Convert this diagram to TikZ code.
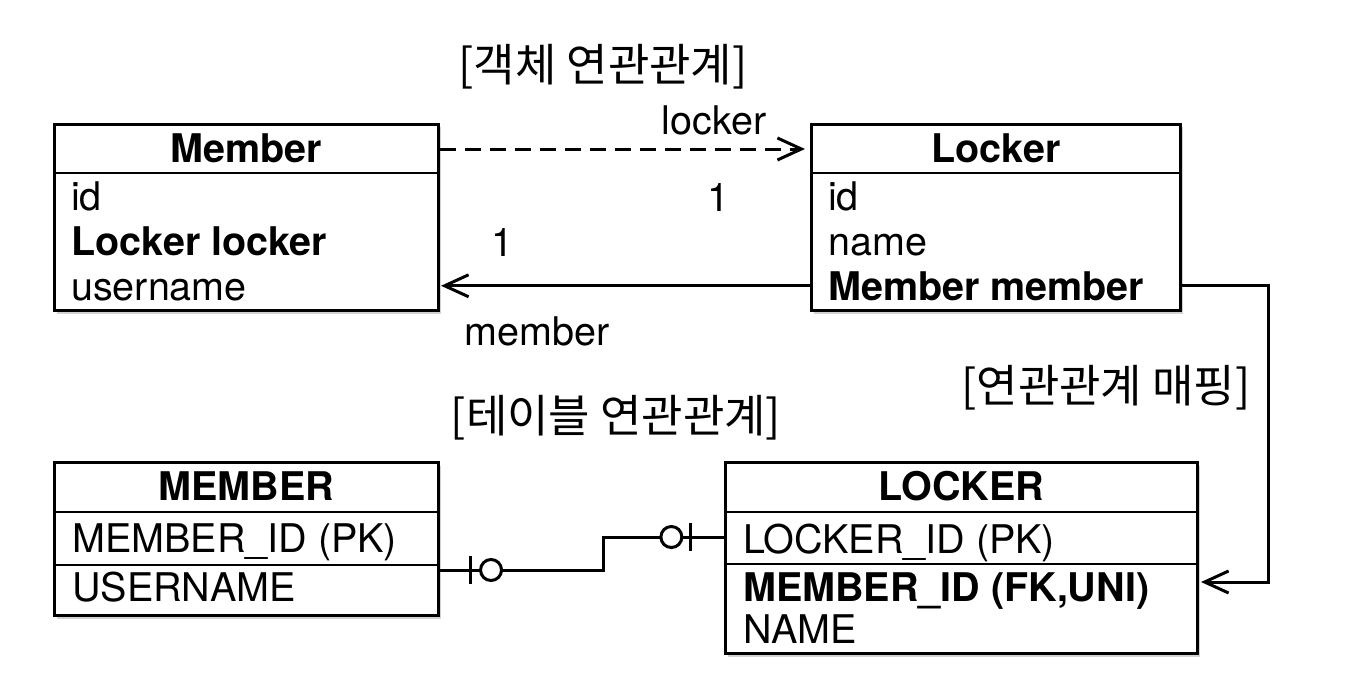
\documentclass[tikz,border=0pt]{standalone}
\usepackage{fontspec}
\setmainfont{TeX Gyre Heros}
\newfontfamily\kr{Noto Sans CJK KR}
\usetikzlibrary{arrows.meta,shadows,calc}
\begin{document}
\begin{tikzpicture}[x=1pt,y=-1pt,
  box/.style={draw,line width=3pt,fill=white,rectangle,inner sep=0pt,anchor=north west,
    drop shadow={shadow xshift=2.5pt,shadow yshift=-3pt,opacity=0.35}},
  sepline/.style={line width=2.5pt},
  head/.style={font=\bfseries\fontsize{39.5}{46}\selectfont,inner sep=0pt},
  row/.style={font=\fontsize{39.5}{46}\selectfont,anchor=base west,inner sep=0pt},
  brow/.style={row,font=\bfseries\fontsize{39.5}{46}\selectfont},
  title/.style={font=\kr\fontsize{45}{52}\selectfont,inner sep=0pt},
  lbl/.style={font=\fontsize{39.5}{46}\selectfont,inner sep=0pt},
  conn/.style={line width=3pt},
  vtip/.style={-{Straight Barb[length=24pt,width=22pt]}},
  erbar/.style={fill=black,draw=none,rectangle,minimum width=3pt,minimum height=28pt,inner sep=0pt},
  ercirc/.style={circle,draw,line width=3pt,fill=white,minimum size=21pt,inner sep=0pt}
]
\fill[white] (0,0) rectangle (1348,698);
\useasboundingbox (0,0) rectangle (1348,698);

% titles
\node[title] (t1) at (603,67) {[객체 연관관계]};
\node[title] (t2) at (616,418) {[테이블 연관관계]};
\node[title] (t3) at (1106,388) {[연관관계 매핑]};

% Member class
\node[box,minimum width=384pt,minimum height=186pt] (member) at (53,123) {};
\draw[sepline] ([yshift=-50pt]member.north west) -- ([yshift=-50pt]member.north east);
\node[head] (mhead) at ([yshift=-25pt]member.north) {Member};
\node[row] (m1) at (71,210) {id};
\node[brow] (m2) at (71,255) {Locker locker};
\node[row] (m3) at (71,300) {username};

% Locker class
\node[box,minimum width=369pt,minimum height=186pt] (locker) at (810,123) {};
\draw[sepline] ([yshift=-50pt]locker.north west) -- ([yshift=-50pt]locker.north east);
\node[head] (lhead) at ([yshift=-25pt]locker.north) {Locker};
\node[row] (l1) at (828,210) {id};
\node[row] (l2) at (828,255) {name};
\node[brow] (l3) at (828,300) {Member member};

% MEMBER table
\node[box,minimum width=384pt,minimum height=153pt] (MEMBERt) at (53,461) {};
\draw[sepline] ([yshift=-51pt]MEMBERt.north west) -- ([yshift=-51pt]MEMBERt.north east);
\draw[sepline] ([yshift=-104pt]MEMBERt.north west) -- ([yshift=-104pt]MEMBERt.north east);
\node[head] (Mhead) at ([yshift=-25.5pt]MEMBERt.north) {MEMBER};
\node[row] (M1) at (72,552) {MEMBER\_ID (PK)};
\node[row] (M2) at (72,601) {USERNAME};

% LOCKER table
\node[box,minimum width=472pt,minimum height=191pt] (LOCKERt) at (724,461) {};
\draw[sepline] ([yshift=-51pt]LOCKERt.north west) -- ([yshift=-51pt]LOCKERt.north east);
\draw[sepline] ([yshift=-103pt]LOCKERt.north west) -- ([yshift=-103pt]LOCKERt.north east);
\node[head] (Lhead) at ([yshift=-25.5pt]LOCKERt.north) {LOCKER};
\node[row] (L1) at (743,553) {LOCKER\_ID (PK)};
\node[brow] (L2) at (743,601) {MEMBER\_ID (FK,UNI)};
\node[row] (L3) at (743,643) {NAME};

% object associations
\draw[conn,vtip,dash pattern=on 16pt off 9pt,shorten >=5pt]
  ([yshift=-26pt]member.north east) -- ([yshift=-26pt]locker.north west);
\node[lbl] (lab1) at (714,120) {locker};
\node[lbl] (lab2) at (718,197) {1};
\draw[conn,vtip,shorten >=1pt] (locker.west |- l3) -- (member.east |- l3);
\node[lbl] (lab3) at (502,242) {1};
\node[lbl] (lab4) at (537,331) {member};

% mapping
\draw[conn,vtip,shorten >=2pt] (locker.east |- l3) -- ++(86,0) |- ([yshift=-121pt]LOCKERt.north east);

% table relation
\coordinate (erA) at ([yshift=-109pt]MEMBERt.north east);
\coordinate (erD) at ([yshift=-76pt]LOCKERt.north west);
\coordinate (erB) at ($(erA)+(163,0)$);
\draw[conn] (erA) -- node[erbar,pos=0.19]{} node[ercirc,pos=0.313]{} (erB)
  -- (erB |- erD) -- node[ercirc,pos=0.565]{} node[erbar,pos=0.726]{} (erD);
\end{tikzpicture}
\end{document}
